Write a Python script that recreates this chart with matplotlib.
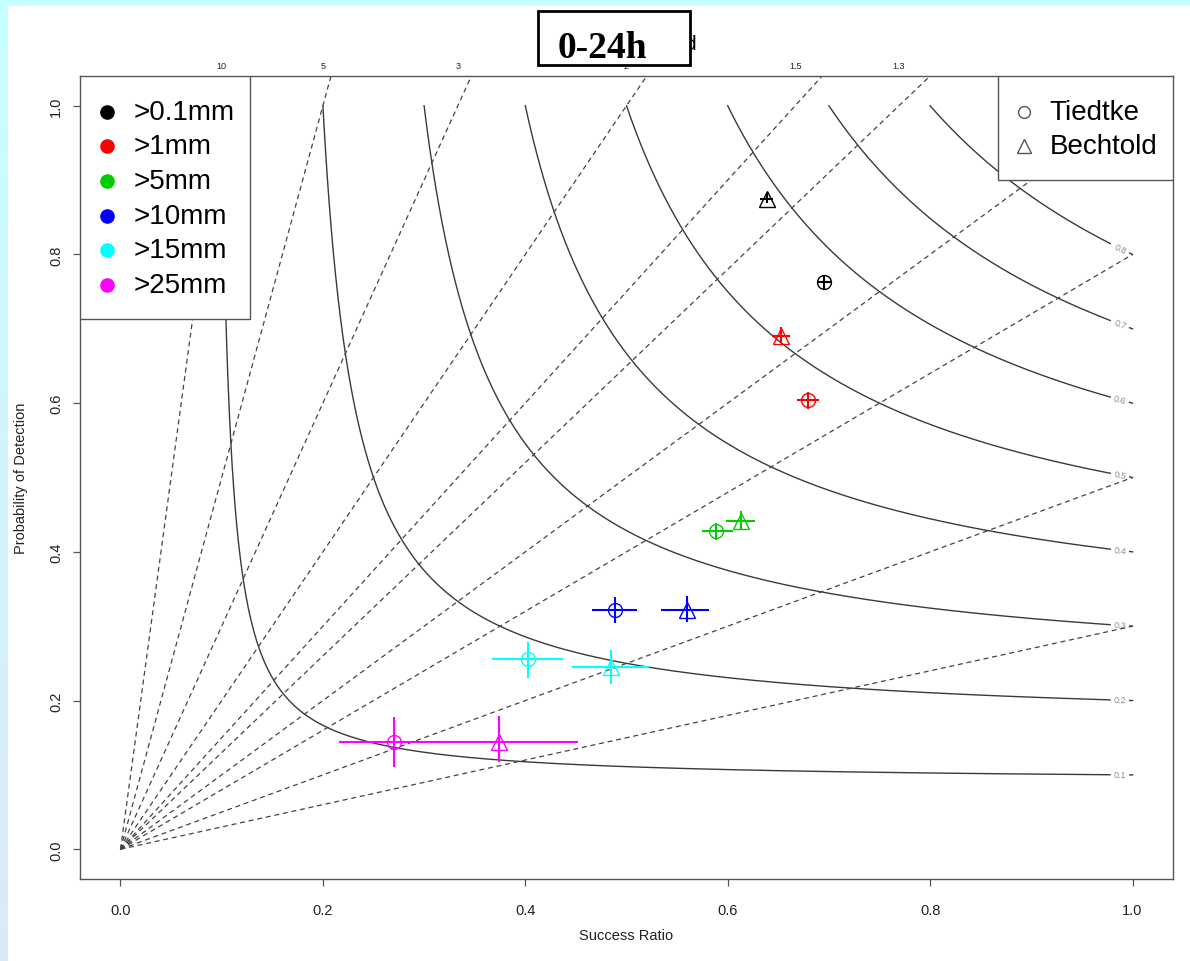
import numpy as np
import matplotlib
matplotlib.use('Agg')
import matplotlib.pyplot as plt
from matplotlib.patches import Rectangle

plt.rcParams['font.family'] = ['Liberation Sans', 'DejaVu Sans']

# Precipitation thresholds and their colours
thresholds = ['>0.1mm', '>1mm', '>5mm', '>10mm', '>15mm', '>25mm']
colors = ['#000000', '#FF0000', '#00CD00', '#0000FF', '#00FFFF', '#FF00FF']

# Tiedtke scheme: success ratio / POD with confidence intervals
tiedtke_sr = [0.695, 0.679, 0.588, 0.489, 0.403, 0.270]
tiedtke_pod = [0.763, 0.604, 0.428, 0.322, 0.256, 0.144]
tiedtke_sr_lo = [0.688, 0.668, 0.575, 0.466, 0.367, 0.216]
tiedtke_sr_hi = [0.703, 0.690, 0.605, 0.510, 0.437, 0.323]
tiedtke_pod_lo = [0.754, 0.592, 0.416, 0.304, 0.230, 0.110]
tiedtke_pod_hi = [0.773, 0.615, 0.439, 0.339, 0.279, 0.178]

# Bechtold scheme
bechtold_sr = [0.639, 0.653, 0.613, 0.560, 0.485, 0.374]
bechtold_pod = [0.874, 0.690, 0.441, 0.322, 0.245, 0.144]
bechtold_sr_lo = [0.632, 0.644, 0.598, 0.534, 0.446, 0.313]
bechtold_sr_hi = [0.645, 0.662, 0.627, 0.582, 0.522, 0.452]
bechtold_pod_lo = [0.869, 0.681, 0.431, 0.305, 0.222, 0.118]
bechtold_pod_hi = [0.882, 0.703, 0.455, 0.340, 0.268, 0.179]

# Background lines of the diagram
csi_levels = [0.1, 0.2, 0.3, 0.4, 0.5, 0.6, 0.7, 0.8, 0.9]
bias_levels = [0.3, 0.5, 0.8, 1, 1.3, 1.5, 2, 3, 5, 10]
bias_top = ['10', '5', '3', '2', '1.5', '1.3']
bias_right = ['1', '0.8', '0.5', '0.3']

W, H = 1190, 962
fig = plt.figure(figsize=(W/100, H/100), dpi=100)

# page background: cyan frame fading to light blue on the left
bg = fig.add_axes([0, 0, 1, 1], zorder=-10)
grad = np.linspace(0, 1, 256)[:, None]
c0 = np.array([0.78, 1.0, 1.0])
c1 = np.array([0.86, 0.915, 0.965])
img = (c0[None, None, :]*(1-grad[..., None]) + c1[None, None, :]*grad[..., None])
bg.imshow(img, aspect='auto', extent=[0, 1, 0, 1], origin='upper')
bg.add_patch(Rectangle((8/W, 0), 1, 1-7/H, facecolor='white', edgecolor='none'))
bg.set_xlim(0, 1); bg.set_ylim(0, 1)
bg.axis('off')

ax = fig.add_axes([80/W, 1-880/H, (1173-80)/W, (880-77)/H])
ax.set_xlim(-0.04, 1.04)
ax.set_ylim(-0.04, 1.04)
fig.canvas.draw()

# CSI curves, labelled near SR = 1 like R's contour()
for csi in csi_levels:
    sr = np.linspace(csi, 1, 3000)
    pod = 1/(1/csi + 1 - 1/sr)
    gap = (sr > 0.978) & (sr < 0.997)
    a = np.where(gap, np.nan, pod)
    ax.plot(sr, a, color='#3a3a3a', lw=1.0, zorder=2)
    xl = 0.9875
    yl = 1/(1/csi + 1 - 1/xl)
    p1 = ax.transData.transform((xl-0.01, 1/(1/csi + 1 - 1/(xl-0.01))))
    p2 = ax.transData.transform((xl+0.01, 1/(1/csi + 1 - 1/(xl+0.01))))
    ang = np.degrees(np.arctan2(p2[1]-p1[1], p2[0]-p1[0]))
    ax.text(xl, yl, '{:g}'.format(csi), fontsize=6.5, color='#8c8c8c',
            rotation=ang, ha='center', va='center', rotation_mode='anchor', zorder=2)

# frequency bias lines from the origin
for b in bias_levels:
    ax.plot([0, 1], [0, b], color='#444444', lw=0.9, ls=(0, (4, 3)), zorder=2)
for lab in bias_top:
    ax.text(1/float(lab), 1.054, lab, fontsize=6.5, color='#222222',
            ha='center', va='center', clip_on=False)
for lab in bias_right:
    ax.text(1.059, float(lab), lab, fontsize=6.5, color='#222222',
            ha='left', va='center', clip_on=False)

# verification points with confidence crosses
for i, c in enumerate(colors):
    ax.errorbar(tiedtke_sr[i], tiedtke_pod[i],
                xerr=[[tiedtke_sr[i]-tiedtke_sr_lo[i]], [tiedtke_sr_hi[i]-tiedtke_sr[i]]],
                yerr=[[tiedtke_pod[i]-tiedtke_pod_lo[i]], [tiedtke_pod_hi[i]-tiedtke_pod[i]]],
                fmt='none', ecolor=c, elinewidth=1.5, capsize=0, zorder=4)
    ax.errorbar(bechtold_sr[i], bechtold_pod[i],
                xerr=[[bechtold_sr[i]-bechtold_sr_lo[i]], [bechtold_sr_hi[i]-bechtold_sr[i]]],
                yerr=[[bechtold_pod[i]-bechtold_pod_lo[i]], [bechtold_pod_hi[i]-bechtold_pod[i]]],
                fmt='none', ecolor=c, elinewidth=1.5, capsize=0, zorder=4)
    ax.plot(tiedtke_sr[i], tiedtke_pod[i], 'o', ms=10, mfc='none', mec=c, mew=1.0, zorder=5)
    ax.plot(bechtold_sr[i], bechtold_pod[i], '^', ms=11, mfc='none', mec=c, mew=1.0, zorder=5)

# threshold legend (top left)
ax.add_patch(Rectangle((-0.04, 0.713), 0.168, 0.327, facecolor='white',
                       edgecolor='#555555', lw=1.0, zorder=6))
for i, (lab, c) in enumerate(zip(thresholds, colors)):
    y = 0.992 - i*0.0466
    ax.plot(-0.0138, y, 'o', ms=9.5, color=c, zorder=7)
    ax.text(0.0128, y, lab, fontsize=20, ha='left', va='center', zorder=7)

# scheme legend (top right)
ax.add_patch(Rectangle((0.867, 0.900), 0.173, 0.140, facecolor='white',
                       edgecolor='#555555', lw=1.0, zorder=6))
for i, (lab, m, s) in enumerate([('Tiedtke', 'o', 8.5), ('Bechtold', '^', 10)]):
    y = 0.992 - i*0.0466
    ax.plot(0.893, y, m, ms=s, mfc='none', mec='#555555', mew=1.0, zorder=7)
    ax.text(0.918, y, lab, fontsize=20, ha='left', va='center', zorder=7)

ax.set_xticks([0, 0.2, 0.4, 0.6, 0.8, 1.0])
ax.set_xticklabels(['0.0', '0.2', '0.4', '0.6', '0.8', '1.0'])
ax.set_yticks([0, 0.2, 0.4, 0.6, 0.8, 1.0])
ax.set_yticklabels(['0.0', '0.2', '0.4', '0.6', '0.8', '1.0'], rotation=90, va='center')
ax.tick_params(axis='x', length=5, width=0.9, color='#555555', labelsize=10.5, pad=12, labelcolor='#222222')
ax.tick_params(axis='y', length=5, width=0.9, color='#555555', labelsize=10.5, pad=7, labelcolor='#222222')
for sp in ax.spines.values():
    sp.set_color('#555555')
    sp.set_linewidth(1.0)
ax.set_xlabel('Success Ratio', fontsize=10.5, labelpad=8, color='#222222')
ax.set_ylabel('Probability of Detection', fontsize=10.5, labelpad=15, color='#222222')

# boxed title (the old title peeks out on the right)
fig.text(696/W, 1-50/H, 'd', fontsize=15, ha='right', va='baseline', zorder=5)
fig.add_artist(Rectangle((538/W, 1-66/H), 152/W, 54/H, transform=fig.transFigure,
                         facecolor='white', edgecolor='black', lw=2, zorder=6))
fig.text(602/W, 1-58/H, '0-24h', fontsize=27, fontweight='bold',
         family=['Liberation Serif', 'DejaVu Serif'], ha='center', va='baseline', zorder=7)

fig.savefig('out.png', dpi=100)
